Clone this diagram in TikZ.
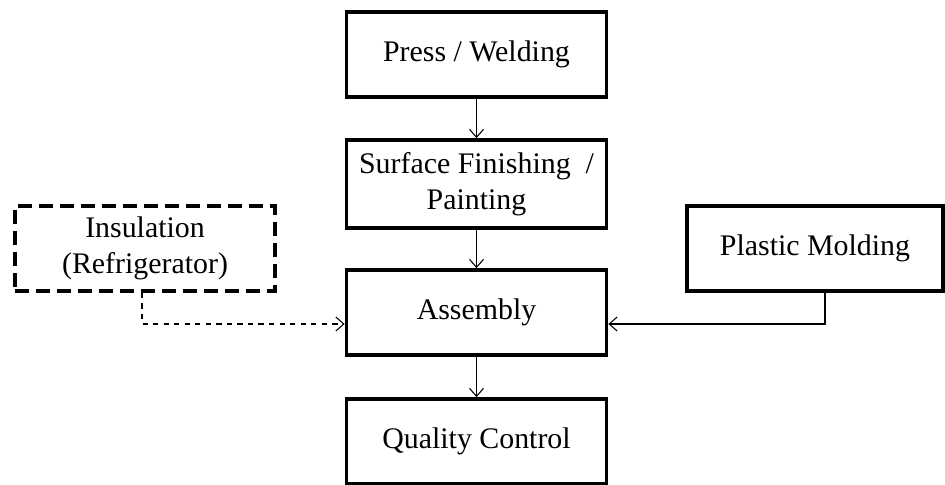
\documentclass[tikz,border=0pt]{standalone}
\usepackage{fontspec}
\setmainfont{Liberation Serif}
\usetikzlibrary{arrows.meta}

\begin{document}
\begin{tikzpicture}[
    stepbox/.style={rectangle, draw=black, line width=0.075cm, minimum width=5.2cm, minimum height=1.7cm, align=center, font=\fontsize{17}{20.5}\selectfont},
    flow/.style={-{Straight Barb[length=1.6mm,width=2.8mm]}, line width=0.6pt}
]
\useasboundingbox (0,0) rectangle (18.9,-9.7);

\node[stepbox] (press) at (9.53,-1.09) {Press / Welding};
\node[stepbox, minimum height=1.76cm] (surface) at (9.53,-3.68) {Surface Finishing~~/\\Painting};
\node[stepbox] (assembly) at (9.53,-6.25) {Assembly};
\node[stepbox] (quality) at (9.53,-8.83) {Quality Control};
\node[stepbox, dash pattern=on 0.28cm off 0.14cm] (insulation) at (2.9,-4.97) {Insulation\\(Refrigerator)};
\node[stepbox, minimum width=5.12cm] (plastic) at (16.3,-4.97) {Plastic Molding};

\draw[flow] (press) -- (surface);
\draw[flow] (surface) -- (assembly);
\draw[flow] (assembly) -- (quality);
\draw[flow, dashed] ([xshift=-0.06cm]insulation.south) |- ([yshift=-0.23cm]assembly.west);
\draw[flow] ([xshift=0.2cm]plastic.south) |- ([yshift=-0.23cm]assembly.east);
\end{tikzpicture}
\end{document}
